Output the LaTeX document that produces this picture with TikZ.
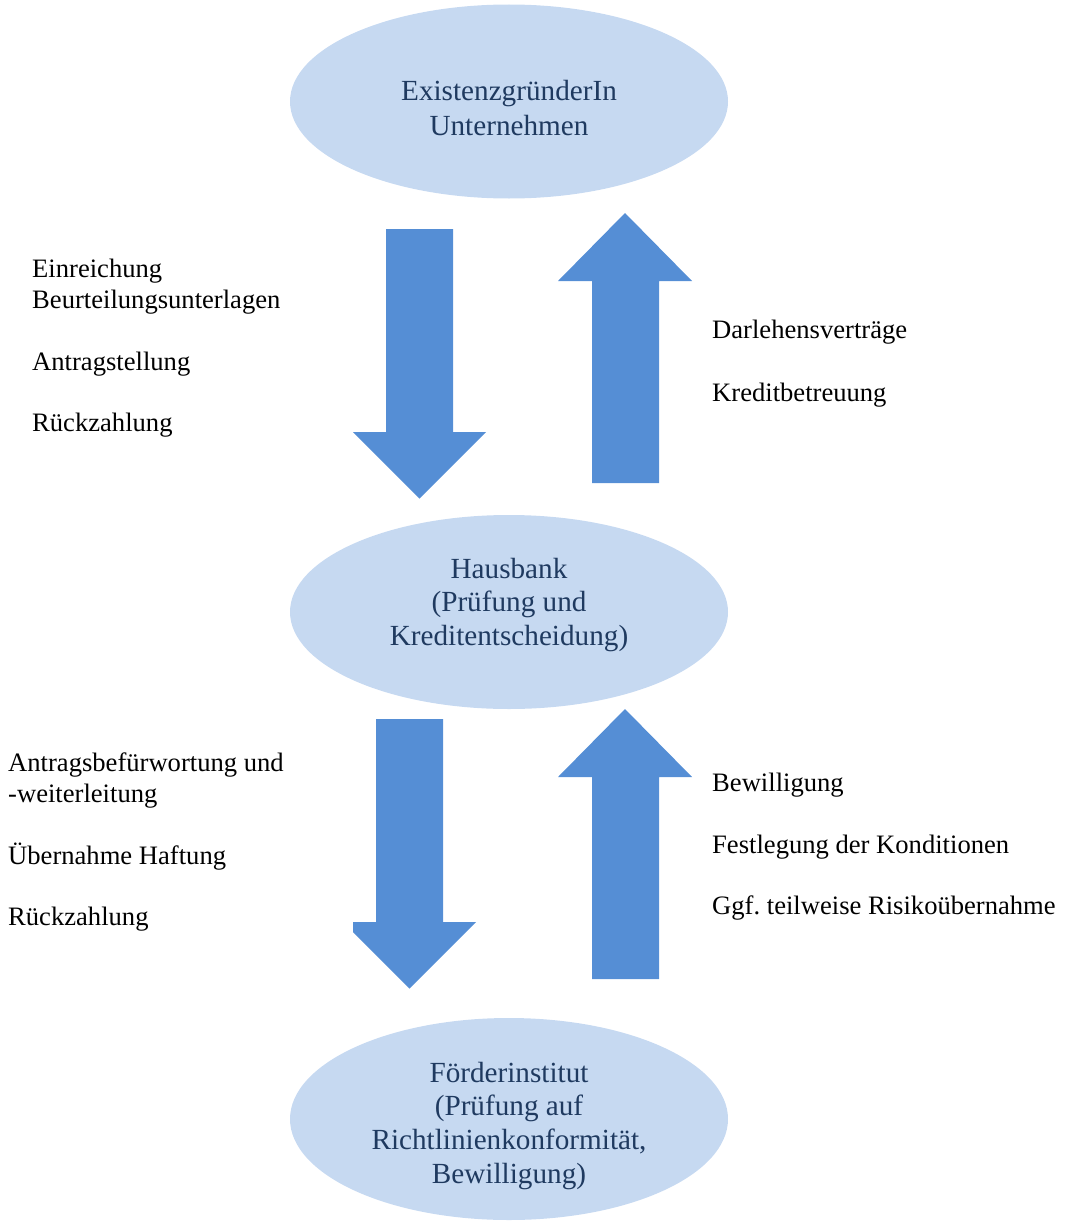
\documentclass[tikz,border=0pt]{standalone}
\usepackage{fontspec}
\setmainfont{Liberation Serif}
\usetikzlibrary{shapes.geometric}
\definecolor{ellfill}{HTML}{C6D9F1}
\definecolor{ellText}{HTML}{1F3A60}
\definecolor{arrfill}{HTML}{558ED5}
\frenchspacing
\tikzset{
  ellbox/.style={ellipse, fill=ellfill, draw=none, inner sep=0pt, minimum width=438pt, minimum height=194pt},
  elltext/.style={anchor=base, inner sep=0pt, text=ellText, font=\fontsize{29.2}{34}\selectfont},
  lbl/.style={anchor=base west, inner sep=0pt, text=black, font=\fontsize{26.6}{31}\selectfont},
  blockarrow/.style={fill=arrfill, draw=none}
}
\begin{document}
\begin{tikzpicture}[x=1pt,y=-1pt]
\useasboundingbox (0,0) rectangle (1065,1223);
% ellipses
\node[ellbox] (e1) at (509,101.5) {};
\node[ellbox] (e2) at (509,612) {};
\node[ellbox, minimum height=202pt] (e3) at (509,1119) {};
% ellipse texts
\node[elltext] (t1a) at (509,100.5) {ExistenzgründerIn};
\node[elltext] (t1b) at (509,135) {Unternehmen};
\node[elltext] (t2a) at (509,578) {Hausbank};
\node[elltext] (t2b) at (509,611.5) {(Prüfung und};
\node[elltext] (t2c) at (509,645.5) {Kreditentscheidung)};
\node[elltext] (t3a) at (509,1082) {Förderinstitut};
\node[elltext] (t3b) at (509,1115.5) {(Prüfung auf};
\node[elltext] (t3c) at (509,1149.5) {Richtlinienkonformität,};
\node[elltext] (t3d) at (509,1183) {Bewilligung)};
% block arrows
\fill[blockarrow] (386,229) -- (453,229) -- (453,432) -- (486,432) -- (419.5,498.5) -- (353,432) -- (386,432) -- cycle;
\fill[blockarrow] (625,213) -- (692,281) -- (659,281) -- (659,483) -- (592,483) -- (592,281) -- (558,281) -- cycle;
\fill[blockarrow] (376,719) -- (443,719) -- (443,922) -- (476,922) -- (409.5,988.5) -- (353,932) -- (353,922) -- (376,922) -- cycle;
\fill[blockarrow] (625,709) -- (692,777) -- (659,777) -- (659,979) -- (592,979) -- (592,777) -- (558,777) -- cycle;
% labels
\node[lbl] (l1) at (32,277) {Einreichung};
\node[lbl] (l2) at (32,308.5) {Beurteilungsunterlagen};
\node[lbl] (l3) at (32,370) {Antragstellung};
\node[lbl] (l4) at (32,431.5) {Rückzahlung};
\node[lbl] (r1) at (712,338.5) {Darlehensverträge};
\node[lbl] (r2) at (712,401.5) {Kreditbetreuung};
\node[lbl] (l5) at (8,771) {Antragsbefürwortung und};
\node[lbl] (l6) at (8,802.5) {-weiterleitung};
\node[lbl] (l7) at (8,864) {Übernahme Haftung};
\node[lbl] (l8) at (8,925.5) {Rückzahlung};
\node[lbl] (r3) at (712,791) {Bewilligung};
\node[lbl] (r4) at (712,853.5) {Festlegung der Konditionen};
\node[lbl] (r5) at (712,914.5) {Ggf. teilweise Risikoübernahme};
\end{tikzpicture}
\end{document}
